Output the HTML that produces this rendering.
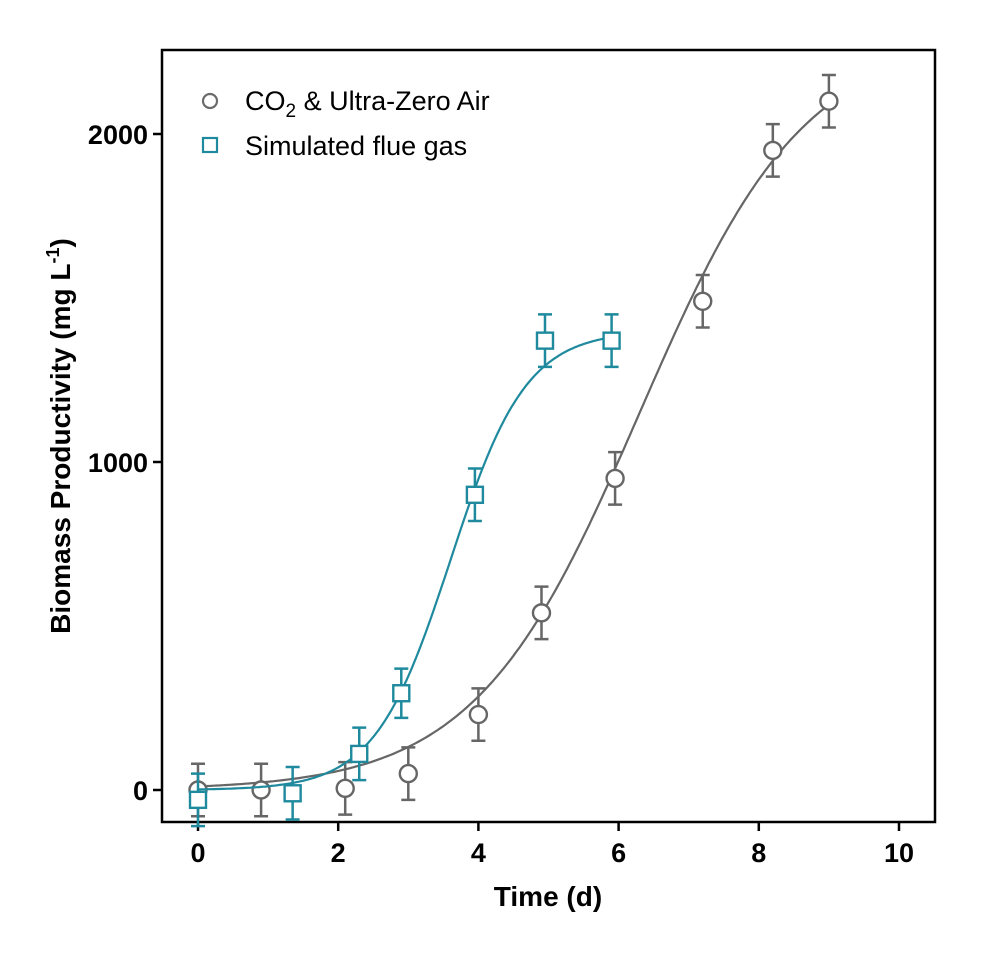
<!DOCTYPE html>
<html><head><meta charset="utf-8"><style>
html,body{margin:0;padding:0;background:#fff;}
svg text{font-family:"Liberation Sans",Arial,sans-serif;}
</style></head><body>
<svg id="chart" width="1000" height="960" xmlns="http://www.w3.org/2000/svg">
<rect x="162" y="50" width="773" height="772" fill="none" stroke="#000" stroke-width="2.5"/>
<g id="axes"></g>
<g id="series"></g>
<text x="548" y="906" font-size="28" font-weight="bold" text-anchor="middle">Time (d)</text>
<text transform="translate(70,436) rotate(-90)" font-size="28" font-weight="bold" text-anchor="middle">Biomass Productivity (mg L<tspan dy="-11" font-size="18">-1</tspan><tspan dy="11">)</tspan></text>
<g>
<circle cx="210" cy="101" r="7" fill="#fff" stroke="#6b6b6b" stroke-width="2.2"/>
<text x="245" y="110" font-size="27">CO<tspan dy="7" font-size="19">2</tspan><tspan dy="-7"> &amp; Ultra-Zero Air</tspan></text>
<rect x="203" y="138" width="14" height="14" fill="#fff" stroke="#1f8a9e" stroke-width="2.2"/>
<text x="245" y="155" font-size="27">Simulated flue gas</text>
</g>
</svg>
<script>
const xTicks=[0,2,4,6,8,10];
const yTicks=[0,1000,2000];
const co2X=[0,0.9,2.1,3,4,4.9,5.95,7.2,8.2,9];
const co2Y=[0,0,5,50,230,540,950,1490,1950,2100];
const co2Err=[80,80,80,80,80,80,80,80,80,80];
const flueX=[0,1.35,2.3,2.9,3.95,4.95,5.9];
const flueY=[-30,-10,110,295,900,1370,1370];
const flueErr=[80,80,80,75,80,80,80];
const co2Fit=[2300,6.3,0.85];   // A, x0, k
const flueFit=[1400,3.6,1.85];
const NS="http://www.w3.org/2000/svg";
const sx=v=>198+v*70.1;
const sy=v=>790-v*0.328;
function mk(tag,attrs,parent){const e=document.createElementNS(NS,tag);for(const k in attrs)e.setAttribute(k,attrs[k]);parent.appendChild(e);return e;}
const axes=document.getElementById('axes'),ser=document.getElementById('series');
xTicks.forEach(t=>{
 const l=mk('line',{x1:sx(t),x2:sx(t),y1:822,y2:831,stroke:'#000','stroke-width':2.5},axes);
 
 
 const tx=mk('text',{x:sx(t),y:862,'font-size':27,'font-weight':'bold','text-anchor':'middle'},axes);
 tx.textContent=t;
 
 
});
yTicks.forEach(t=>{
 const l=mk('line',{x1:153,x2:162,y1:sy(t),y2:sy(t),stroke:'#000','stroke-width':2.5},axes);
 
 
 const tx=mk('text',{x:148,y:sy(t)+10,'font-size':27,'font-weight':'bold','text-anchor':'end'},axes);
 tx.textContent=t;
 
 
});
function fitPath(p,x0,x1){let d='';for(let i=0;i<=200;i++){const x=x0+(x1-x0)*i/200;const y=p[0]/(1+Math.exp(-p[2]*(x-p[1])));d+=(i?'L':'M')+sx(x).toFixed(1)+','+sy(y).toFixed(1);}return d;}
function drawSeries(X,Y,E,fit,xmax,color,shape,name){
 const c=mk('path',{d:fitPath(fit,0,xmax),fill:'none',stroke:color,'stroke-width':2.2},ser);
 
 
 X.forEach((x,i)=>{
  const cx=sx(x),cy=sy(Y[i]),t=sy(Y[i]+E[i]),b=sy(Y[i]-E[i]);
  const eb=mk('path',{d:`M${cx},${t}L${cx},${b}M${cx-7},${t}L${cx+7},${t}M${cx-7},${b}L${cx+7},${b}`,stroke:color,'stroke-width':2.5,fill:'none'},ser);
  
  
  let m;
  if(shape==='circle') m=mk('circle',{cx:cx,cy:cy,r:8.5,fill:'#fff',stroke:color,'stroke-width':2.4},ser);
  else m=mk('rect',{x:cx-8,y:cy-8,width:16,height:16,fill:'#fff',stroke:color,'stroke-width':2.4},ser);
  
  
 });
}
drawSeries(co2X,co2Y,co2Err,co2Fit,9,'#666666','circle','co2');
drawSeries(flueX,flueY,flueErr,flueFit,6,'#1f8a9e','square','flue');
</script>
</body></html>
